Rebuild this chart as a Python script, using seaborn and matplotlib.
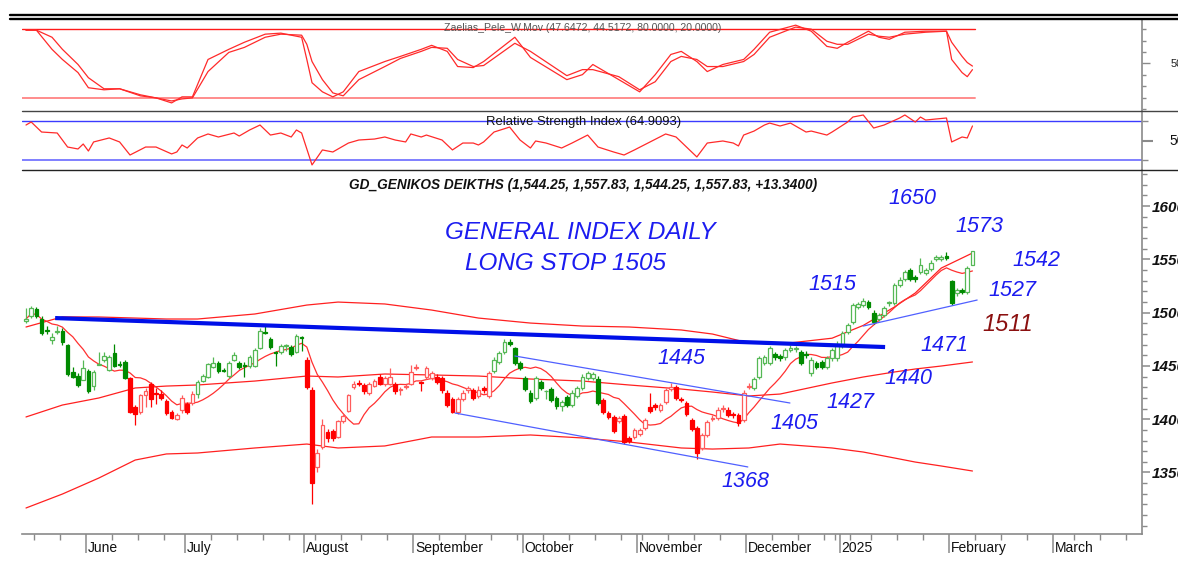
import numpy as np
import pandas as pd
import matplotlib
matplotlib.use("Agg")
import matplotlib.pyplot as plt
import matplotlib.transforms as mtransforms
from matplotlib.lines import Line2D
from matplotlib.ticker import MultipleLocator, FixedLocator, NullFormatter
import seaborn as sns

sns.set_theme(style="white")
plt.rcParams['font.family'] = ['Liberation Sans', 'DejaVu Sans']

# ---------------- data ----------------
first_session = "2024-05-16"
holidays = ["2024-06-24", "2024-08-15", "2024-10-28", "2024-12-24", "2024-12-25",
            "2024-12-26", "2024-12-31", "2025-01-01", "2025-01-06", "2025-03-03", "2025-03-25"]

opens = [1492, 1497, 1503, 1494, 1484, 1474, 1482, 1483, 1470, 1444,
         1441, 1437, 1445, 1431, 1451, 1456, 1446, 1462, 1452, 1454,
         1439, 1411, 1407, 1423, 1433, 1425, 1424, 1417, 1407, 1400,
         1409, 1414, 1415, 1424, 1436, 1440, 1449, 1453, 1446, 1441,
         1456, 1453, 1451, 1450, 1450, 1467, 1482, 1475, 1463, 1463,
         1469, 1468, 1463, 1477, 1456, 1427, 1355, 1374, 1388, 1389,
         1383, 1398, 1408, 1430, 1434, 1432, 1425, 1431, 1440, 1433,
         1433, 1433, 1427, 1430, 1433, 1448, 1435, 1440, 1439, 1440,
         1439, 1425, 1419, 1407, 1419, 1427, 1427, 1422, 1429, 1422,
         1445, 1454, 1463, 1472, 1467, 1453, 1439, 1425, 1420, 1435,
         1426, 1428, 1420, 1412, 1421, 1413, 1422, 1429, 1439, 1439,
         1438, 1418, 1406, 1402, 1398, 1403, 1382, 1383, 1386, 1392,
         1411, 1413, 1409, 1416, 1428, 1430, 1419, 1415, 1399, 1392,
         1373, 1385, 1400, 1401, 1410, 1409, 1405, 1404, 1399, 1430,
         1429, 1440, 1453, 1453, 1461, 1459, 1458, 1465, 1466, 1463,
         1461, 1443, 1453, 1454, 1449, 1457, 1457, 1469, 1482, 1491,
         1505, 1507, 1510, 1500, 1494, 1498, 1509, 1509, 1526, 1532,
         1540, 1533, 1538, 1537, 1541, 1550, 1550, 1553, 1530, 1518,
         1521, 1519, 1544.25]
closes = [1494, 1504, 1497, 1481, 1483, 1477, 1483, 1472, 1442, 1440,
          1432, 1448, 1426, 1444, 1452, 1459, 1458, 1450, 1451, 1439,
          1407, 1405, 1423, 1426, 1419, 1424, 1420, 1406, 1401, 1404,
          1420, 1407, 1424, 1435, 1441, 1452, 1453, 1445, 1445, 1453,
          1460, 1449, 1450, 1458, 1465, 1483, 1481, 1468, 1462, 1469,
          1469, 1461, 1478, 1476, 1430, 1340, 1368, 1395, 1382, 1382,
          1398, 1403, 1423, 1433, 1433, 1426, 1433, 1436, 1433, 1439,
          1440, 1426, 1428, 1431, 1444, 1449, 1434, 1448, 1443, 1435,
          1427, 1413, 1407, 1419, 1425, 1429, 1420, 1427, 1427, 1443,
          1456, 1462, 1472, 1471, 1453, 1448, 1428, 1417, 1439, 1429,
          1426, 1418, 1412, 1416, 1413, 1425, 1429, 1440, 1443, 1442,
          1415, 1407, 1402, 1389, 1401, 1379, 1380, 1390, 1390, 1399,
          1408, 1411, 1413, 1427, 1430, 1420, 1418, 1405, 1391, 1368,
          1385, 1397, 1401, 1409, 1410, 1404, 1404, 1396, 1425, 1430,
          1438, 1457, 1458, 1467, 1458, 1457, 1465, 1467, 1466, 1453,
          1460, 1456, 1449, 1449, 1457, 1465, 1471, 1481, 1488, 1507,
          1508, 1511, 1505, 1491, 1498, 1504, 1509, 1526, 1531, 1538,
          1532, 1532, 1545, 1540, 1547, 1552, 1552, 1551, 1509, 1521,
          1519, 1542, 1557.83]
highs = [1504, 1506, 1505, 1497, 1487, 1481, 1487, 1486, 1471, 1449,
         1443, 1456, 1447, 1446, 1463, 1463, 1460, 1471, 1455, 1456,
         1440, 1413, 1424, 1429, 1435, 1429, 1427, 1419, 1409, 1406,
         1423, 1416, 1426, 1437, 1442, 1453, 1458, 1455, 1448, 1455,
         1463, 1455, 1454, 1460, 1467, 1486, 1488, 1477, 1464, 1471,
         1471, 1470, 1480, 1478, 1458, 1430, 1372, 1400, 1391, 1391,
         1399, 1405, 1424, 1436, 1437, 1434, 1435, 1438, 1442, 1441,
         1448, 1435, 1430, 1433, 1451, 1452, 1436, 1450, 1445, 1442,
         1441, 1427, 1421, 1421, 1427, 1431, 1429, 1431, 1431, 1445,
         1458, 1464, 1475, 1475, 1468, 1455, 1441, 1427, 1441, 1437,
         1427, 1430, 1422, 1418, 1423, 1427, 1431, 1442, 1445, 1444,
         1441, 1420, 1408, 1404, 1403, 1405, 1384, 1392, 1392, 1401,
         1425, 1415, 1415, 1429, 1434, 1432, 1421, 1417, 1401, 1394,
         1387, 1399, 1404, 1411, 1413, 1411, 1407, 1406, 1427, 1434,
         1440, 1459, 1460, 1469, 1463, 1461, 1467, 1470, 1469, 1465,
         1464, 1458, 1455, 1456, 1459, 1467, 1473, 1483, 1490, 1509,
         1510, 1514, 1512, 1502, 1500, 1506, 1511, 1528, 1533, 1540,
         1542, 1535, 1551, 1542, 1549, 1554, 1554, 1557, 1531, 1523,
         1523, 1544, 1557.83]
lows = [1490, 1495, 1495, 1479, 1480, 1471, 1480, 1470, 1441, 1439,
        1430, 1437, 1425, 1427, 1451, 1454, 1445, 1449, 1449, 1438,
        1406, 1395, 1405, 1411, 1411, 1414, 1418, 1404, 1400, 1399,
        1406, 1405, 1413, 1420, 1435, 1439, 1448, 1443, 1444, 1439,
        1455, 1447, 1440, 1448, 1449, 1466, 1480, 1466, 1450, 1461,
        1464, 1459, 1462, 1464, 1428, 1320, 1350, 1372, 1379, 1380,
        1382, 1396, 1407, 1428, 1431, 1424, 1423, 1430, 1432, 1431,
        1432, 1424, 1423, 1428, 1432, 1446, 1426, 1438, 1437, 1433,
        1425, 1411, 1406, 1405, 1417, 1425, 1418, 1420, 1425, 1420,
        1443, 1452, 1461, 1469, 1451, 1446, 1426, 1415, 1418, 1427,
        1419, 1416, 1410, 1408, 1411, 1411, 1420, 1427, 1437, 1437,
        1413, 1405, 1400, 1387, 1396, 1377, 1378, 1381, 1384, 1390,
        1406, 1409, 1407, 1414, 1426, 1418, 1416, 1403, 1389, 1363,
        1371, 1383, 1398, 1399, 1407, 1402, 1401, 1394, 1397, 1428,
        1427, 1438, 1451, 1451, 1456, 1455, 1456, 1463, 1463, 1451,
        1457, 1441, 1447, 1447, 1447, 1455, 1455, 1467, 1480, 1489,
        1503, 1505, 1503, 1489, 1492, 1496, 1506, 1507, 1524, 1530,
        1530, 1529, 1536, 1535, 1539, 1548, 1548, 1549, 1507, 1516,
        1517, 1517, 1544.25]

# trend colouring of the candles (session where each regime starts)
trend_starts = [0, 20, 33, 54, 90, 111, 140]
trend_kinds = ["up", "down", "up", "down", "up", "down", "up"]

# long envelope bands (sampled sessions)
band_sessions = [0, 7, 14, 21, 27, 33, 44, 54, 60, 69, 78, 87, 97, 107, 116, 126,
                 132, 139, 145, 155, 161, 167, 171, 176, 182]
band_upper = [1486.5, 1496.0, 1495.9, 1494.9, 1494.0, 1494.0, 1498.7, 1507.1, 1509.9, 1508.1,
              1502.4, 1494.9, 1490.2, 1487.4, 1486.5, 1483.7, 1479.9, 1471.5, 1470.5, 1476.0,
              1488.0, 1505.3, 1518.4, 1541.8, 1555.9]
band_middle = [1402.1, 1413.3, 1419.9, 1429.3, 1431.1, 1432.1, 1435.8, 1440.5, 1439.6, 1442.4,
               1441.5, 1440.5, 1437.7, 1435.8, 1432.1, 1428.3, 1425.5, 1421.8, 1423.6, 1434.0,
               1439.6, 1444.3, 1447.1, 1449.9, 1453.7]
band_lower = [1316.7, 1329.8, 1344.8, 1361.7, 1367.4, 1368.3, 1373.0, 1376.7, 1373.0, 1374.9,
              1383.3, 1383.3, 1385.2, 1382.4, 1378.6, 1373.0, 1372.0, 1373.0, 1376.7, 1373.0,
              1369.2, 1363.6, 1359.8, 1356.1, 1351.4]
ma_window = 10

# Zaelias_Pele W.Mov oscillator (sampled sessions)
osc_sessions = [0, 2, 5, 7, 10, 12, 15, 18, 22, 25, 28, 30, 32, 35, 39, 42, 46, 49, 53, 54,
                55, 57, 59, 61, 64, 69, 72, 76, 78, 81, 83, 86, 88, 94, 97, 104, 107, 109, 114, 118,
                121, 124, 126, 129, 131, 134, 138, 140, 143, 148, 151, 154, 156, 158, 162, 164, 166,
                169, 173, 177, 178, 180, 181, 182]
osc_fast = [79.1, 79.1, 62.3, 53.4, 41.9, 28.6, 26.8, 27.7, 21.5, 19.7, 15.3, 20.6, 20.6, 53.4,
            62.3, 68.5, 75.6, 76.5, 72.9, 53.4, 33.0, 25.0, 20.6, 25.0, 42.8, 51.6, 56.1, 62.3,
            65.8, 60.5, 47.2, 46.3, 51.6, 72.9, 55.2, 35.7, 40.1, 49.0, 35.7, 25.0, 40.1, 57.8,
            60.5, 51.6, 42.8, 49.0, 53.4, 62.3, 77.3, 83.5, 78.2, 64.9, 63.2, 68.5, 78.2, 72.9,
            71.1, 77.3, 78.2, 78.2, 53.4, 41.9, 38.3, 44.5]
osc_slow = [79.1, 79.1, 72.9, 62.3, 49.0, 37.4, 27.7, 27.7, 22.4, 19.7, 17.0, 18.8, 19.7, 42.8,
            59.6, 64.0, 72.9, 75.6, 74.7, 66.7, 51.6, 35.7, 24.1, 21.5, 35.7, 47.2, 54.3, 60.5,
            64.0, 63.2, 53.4, 47.2, 48.1, 67.6, 60.5, 39.2, 44.5, 44.5, 38.3, 26.8, 33.9, 51.6,
            56.1, 53.4, 47.2, 47.2, 51.6, 57.8, 72.9, 81.8, 80.0, 69.4, 66.7, 66.7, 75.6, 73.8,
            72.9, 75.6, 77.3, 78.2, 68.5, 56.1, 50.7, 47.6]

# Relative Strength Index (sampled sessions)
rsi_sessions = [0, 1, 3, 6, 8, 10, 11, 12, 13, 16, 18, 20, 23, 25, 28, 29, 30, 31, 33, 35, 37,
                40, 41, 43, 45, 47, 49, 51, 52, 53, 55, 57, 59, 62, 64, 67, 69, 71, 73, 74, 76,
                77, 80, 82, 84, 86, 87, 88, 90, 93, 95, 97, 98, 100, 103, 105, 108, 110, 113, 115,
                117, 120, 123, 125, 129, 131, 134, 136, 137, 138, 140, 142, 143, 145, 147, 150,
                151, 154, 155, 158, 159, 161, 163, 165, 168, 169, 171, 172, 173, 175, 177, 178,
                180, 181, 182]
rsi_values = [65.9, 69.0, 58.7, 57.7, 43.3, 41.3, 46.4, 39.2, 48.5, 52.6, 48.5, 35.1, 43.3, 43.3,
              36.2, 38.2, 45.4, 42.3, 52.6, 56.7, 53.6, 57.7, 54.6, 60.8, 65.9, 55.6, 57.7, 53.6,
              60.8, 57.7, 24.9, 40.3, 38.2, 47.4, 50.5, 51.5, 53.6, 50.5, 48.5, 56.7, 53.6, 55.6,
              50.5, 40.3, 47.4, 47.4, 45.4, 48.5, 58.7, 63.8, 50.5, 42.3, 49.5, 47.4, 42.3, 47.4,
              55.6, 43.3, 38.2, 35.1, 40.3, 48.5, 56.7, 53.6, 33.1, 47.4, 49.5, 47.4, 44.4, 55.6,
              59.7, 65.9, 67.9, 64.9, 67.9, 58.7, 59.7, 55.6, 58.7, 69.0, 74.1, 76.2, 62.8, 65.9,
              73.1, 76.2, 69.0, 74.1, 71.0, 72.1, 73.1, 48.5, 53.6, 52.6, 64.9]

# drawn trend lines: (session, level) pairs
resistance_line = [(5.6, 1494.9), (165.2, 1467.7)]
channel_upper = [(94.0, 1459.3), (146.9, 1415.2)]
channel_lower = [(82.5, 1405.8), (138.8, 1355.2)]
support_line = [(161.0, 1487.4), (182.9, 1511.8)]

notes = ["GENERAL INDEX DAILY", "LONG STOP 1505", "1650", "1573", "1542", "1515", "1527",
         "1511", "1471", "1445", "1440", "1427", "1405", "1368"]
note_at = [(80.6, 1574.7), (84.4, 1546.5), (165.8, 1606.6), (178.7, 1581.2), (189.6, 1549.3),
           (150.4, 1526.8), (185.0, 1521.2), (184.0, 1488.4), (171.9, 1469.6), (121.5, 1457.4),
           (165.0, 1438.6), (154.0, 1416.1), (143.1, 1396.4), (133.8, 1341.1)]

main_title = "GD_GENIKOS DEIKTHS (1,544.25, 1,557.83, 1,544.25, 1,557.83, +13.3400)"
osc_title = "Zaelias_Pele_W.Mov (47.6472, 44.5172, 80.0000, 20.0000)"
rsi_title = "Relative Strength Index (64.9093)"

# ---------------- calendar ----------------
cal = pd.offsets.CustomBusinessDay(holidays=holidays)
sessions = pd.date_range(first_session, "2025-04-30", freq=cal)
n = len(closes)
idx = np.arange(n)
xmin, xmax = -0.77, 214.6

# ---------------- figure ----------------
W, H = 1178, 567
fig = plt.figure(figsize=(W / 100, H / 100), dpi=100)
fig.patch.set_facecolor("white")


def box(x0, y0, x1, y1):
    return [x0 / W, 1 - y1 / H, (x1 - x0) / W, (y1 - y0) / H]


ax_osc = fig.add_axes(box(22, 19, 1142, 111))
ax_rsi = fig.add_axes(box(22, 111, 1142, 170))
ax = fig.add_axes(box(22, 170, 1142, 534))

spine_col = "#8a8a8a"
for a in (ax_osc, ax_rsi, ax):
    a.set_facecolor("white")
    a.set_xlim(xmin, xmax)
    for s in ("left", "top"):
        a.spines[s].set_visible(False)
    a.spines["bottom"].set_visible(False)
    a.spines["right"].set_color(spine_col)
    a.spines["right"].set_linewidth(1.2)
    a.yaxis.tick_right()
    a.tick_params(axis="y", which="both", direction="out", colors=spine_col, right=True, left=False)
    a.set_xticks([])
    a.set_xlabel("")
    a.set_ylabel("")
    a.grid(False)
ax.spines["bottom"].set_visible(True)
ax.spines["bottom"].set_color(spine_col)
ax.spines["bottom"].set_linewidth(1.2)

# ---------------- oscillator panel ----------------
ax_osc.set_ylim(8.2, 88.9)
ax_osc.plot([xmin, 182.5], [80, 80], color="#ff1a1a", lw=1.0)
ax_osc.plot([xmin, 182.5], [20, 20], color="#ff8c8c", lw=1.4)
sns.lineplot(x=osc_sessions, y=osc_fast, ax=ax_osc, color="#ff2a2a", lw=0.9)
sns.lineplot(x=osc_sessions, y=osc_slow, ax=ax_osc, color="#ff2a2a", lw=0.9)
ax_osc.yaxis.set_major_locator(FixedLocator([50]))
ax_osc.yaxis.set_minor_locator(FixedLocator([10, 20, 30, 40, 60, 70, 80]))
ax_osc.yaxis.set_major_formatter(NullFormatter())
ax_osc.tick_params(axis="y", which="major", length=6, width=1)
ax_osc.tick_params(axis="y", which="minor", length=3, width=1)
ax_osc.set_xlim(xmin, xmax)
ax_osc.set_xlabel("")
ax_osc.set_ylabel("")
fig.text(1171 / W, 1 - 64 / H, "50", fontsize=8, color="#222222", va="center", ha="left")
fig.text(583 / W, 1 - 28 / H, osc_title, fontsize=7.6, color="#555555", ha="center", va="center")

# ---------------- RSI panel ----------------
ax_rsi.set_ylim(19.7, 80.3)
ax_rsi.axhline(70, color="#3b3bff", lw=1.0)
ax_rsi.axhline(30, color="#6a6aff", lw=1.2)
sns.lineplot(x=rsi_sessions, y=rsi_values, ax=ax_rsi, color="#ff2a2a", lw=0.9)
ax_rsi.yaxis.set_major_locator(FixedLocator([50]))
ax_rsi.yaxis.set_minor_locator(FixedLocator([30, 70]))
ax_rsi.yaxis.set_major_formatter(NullFormatter())
ax_rsi.tick_params(axis="y", which="major", length=8, width=1.5)
ax_rsi.tick_params(axis="y", which="minor", length=4, width=1)
ax_rsi.set_xlim(xmin, xmax)
ax_rsi.set_xlabel("")
ax_rsi.set_ylabel("")
fig.text(1169 / W, 1 - 141 / H, "50", fontsize=10, color="#111111", va="center", ha="left")
fig.text(584 / W, 1 - 122 / H, rsi_title, fontsize=9.4, color="#111111", ha="center", va="center")

# ---------------- main panel ----------------
ax.set_ylim(1292.3, 1633.8)

# envelope bands and short moving average
sns.lineplot(x=band_sessions, y=band_upper, ax=ax, color="#ff2020", lw=0.9, zorder=1)
sns.lineplot(x=band_sessions, y=band_middle, ax=ax, color="#ff2020", lw=0.9, zorder=1)
sns.lineplot(x=band_sessions, y=band_lower, ax=ax, color="#ff2020", lw=0.9, zorder=1)
short_ma = pd.Series(closes).rolling(ma_window, min_periods=1).mean()
sns.lineplot(x=idx, y=short_ma.values, ax=ax, color="#ff3030", lw=0.9, zorder=1)

# candles
palette = {"up": ("#008a00", "#55b855"), "down": ("#ff0000", "#ff5c5c")}
kind_of = []
for i in range(n):
    k = trend_kinds[0]
    for s, kk in zip(trend_starts, trend_kinds):
        if i >= s:
            k = kk
    kind_of.append(k)

o = np.array(opens, float)
c = np.array(closes, float)
h = np.array(highs, float)
l = np.array(lows, float)
rising = c >= o
wick_cols = [palette[k][1] if r else palette[k][0] for k, r in zip(kind_of, rising)]
ax.vlines(idx, l, h, colors=wick_cols, lw=0.9, zorder=3)
body_bottom = np.minimum(o, c)
body_h = np.maximum(np.abs(c - o), 0.9)
face = ["white" if r else palette[k][0] for k, r in zip(kind_of, rising)]
edge = [palette[k][1] if r else palette[k][0] for k, r in zip(kind_of, rising)]
ax.bar(idx, body_h, bottom=body_bottom, width=0.72, color=face, edgecolor=edge,
       linewidth=0.9, zorder=4)

# trend lines
def seg(a, pts, **kw):
    xs, ys = zip(*pts)
    a.plot(xs, ys, **kw)

seg(ax, resistance_line, color="#0010e8", lw=3.0, solid_capstyle="butt", zorder=5)
seg(ax, channel_upper, color="#5060ff", lw=0.9, zorder=5)
seg(ax, channel_lower, color="#5060ff", lw=0.9, zorder=5)
seg(ax, support_line, color="#5060ff", lw=0.9, zorder=5)

# annotations
for t, (xx, yy) in zip(notes, note_at):
    col = "#8b1010" if t == "1511" else "#1c1cf0"
    if t == "1511":
        size = 17
    elif t.isdigit():
        size = 15.5
    else:
        size = 17.5
    ax.text(xx, yy, t, color=col, fontsize=size, style="italic", ha="left", va="center",
            family=["Liberation Sans", "DejaVu Sans"], zorder=6, clip_on=False)

# right price axis
ax.yaxis.set_major_locator(FixedLocator([1350, 1400, 1450, 1500, 1550, 1600]))
ax.yaxis.set_minor_locator(MultipleLocator(10))
ax.tick_params(axis="y", which="major", length=6, width=1.1, pad=1, labelcolor="#111111",
               labelsize=11)
ax.tick_params(axis="y", which="minor", length=3.5, width=1)
for lab in ax.get_yticklabels():
    lab.set_fontweight("bold")
    lab.set_fontstyle("italic")

# time axis: month boundaries and weekly ticks
month_pos, month_lab = [], []
week_pos = []
prev_m, prev_w = None, None
for i, d in enumerate(sessions):
    if i - 0.5 > xmax:
        break
    if d.month != prev_m:
        if prev_m is not None:
            month_pos.append(i - 0.5)
            month_lab.append("2025" if (d.month == 1) else d.strftime("%B"))
        prev_m = d.month
    wk = d.isocalendar()[1]
    if wk != prev_w:
        if prev_w is not None:
            week_pos.append(i - 0.5)
        prev_w = wk

ax.set_xticks(week_pos, minor=True)
ax.set_xticks(month_pos)
ax.set_xticklabels([])
ax.tick_params(axis="x", which="major", direction="out", length=14, width=1.1, colors=spine_col,
               bottom=True)
ax.tick_params(axis="x", which="minor", direction="out", length=4, width=1, colors=spine_col,
               bottom=True)
trans = mtransforms.blended_transform_factory(ax.transData, ax.transAxes)
for p, lab in zip(month_pos, month_lab):
    ax.text(p + 0.35, -14.0 / 364, lab, transform=trans, fontsize=10, color="#111111",
            ha="left", va="center", clip_on=False)
ax.set_xlim(xmin, xmax)
ax.set_xlabel("")
ax.set_ylabel("")

fig.text(583 / W, 1 - 185 / H, main_title, fontsize=9.8, fontweight="bold", style="italic",
         color="#111111", ha="center", va="center")

# panel separators and the double rule at the top
fig.add_artist(Line2D([10 / W, 1], [1 - 15 / H] * 2, color="black", lw=1.7))
fig.add_artist(Line2D([10 / W, 1], [1 - 18.6 / H] * 2, color="black", lw=1.7))
fig.add_artist(Line2D([22 / W, 1], [1 - 111 / H] * 2, color="#444444", lw=1.0))
fig.add_artist(Line2D([22 / W, 1], [1 - 170 / H] * 2, color="#222222", lw=1.0))

fig.savefig("out.png", dpi=100, facecolor="white")
